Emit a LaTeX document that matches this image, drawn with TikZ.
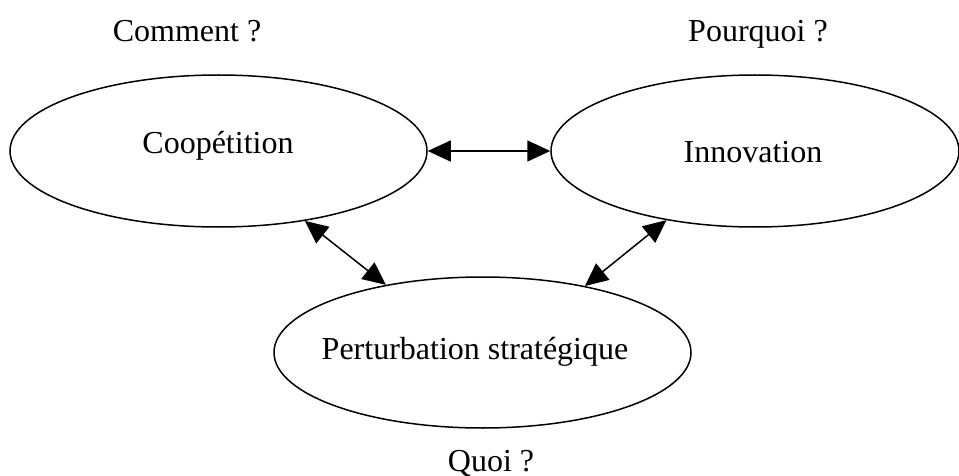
\documentclass[tikz,border=0pt]{standalone}
\usepackage{fontspec}
\setmainfont{Liberation Serif}
\usetikzlibrary{shapes.geometric,arrows.meta}
\tikzset{
  oval/.style={draw, ellipse, line width=1.5pt, inner sep=0pt},
  lbl/.style={anchor=base, inner sep=0pt, font=\fontsize{32}{38}\selectfont},
  conn/.style={line width=1.5pt, {Triangle[length=23pt,width=21pt]}-{Triangle[length=23pt,width=21pt]}}
}
\begin{document}
\begin{tikzpicture}[x=1pt,y=-1pt]
\useasboundingbox (0,0) rectangle (959,476);
\node[oval, minimum width=417pt, minimum height=152pt] (coop) at (218.5,151) {};
\node[oval, minimum width=408pt, minimum height=152pt] (innov) at (755,151) {};
\node[oval, minimum width=417pt, minimum height=151pt] (pert) at (482.5,352.5) {};
\node[lbl] (tcoop) at (218,154) {Coopétition};
\node[lbl] (tinnov) at (753,163) {Innovation};
\node[lbl] (tpert) at (475,359) {Perturbation stratégique};
\node[lbl] (qcomment) at (187,42) {Comment ?};
\node[lbl] (qpourquoi) at (758,42) {Pourquoi ?};
\node[lbl] (qquoi) at (491,471) {Quoi ?};
\draw[conn] (coop.0) -- (innov.180);
\draw[conn] (coop.-39) -- (pert.145);
\draw[conn] (innov.-142) -- (pert.33);
\end{tikzpicture}
\end{document}
